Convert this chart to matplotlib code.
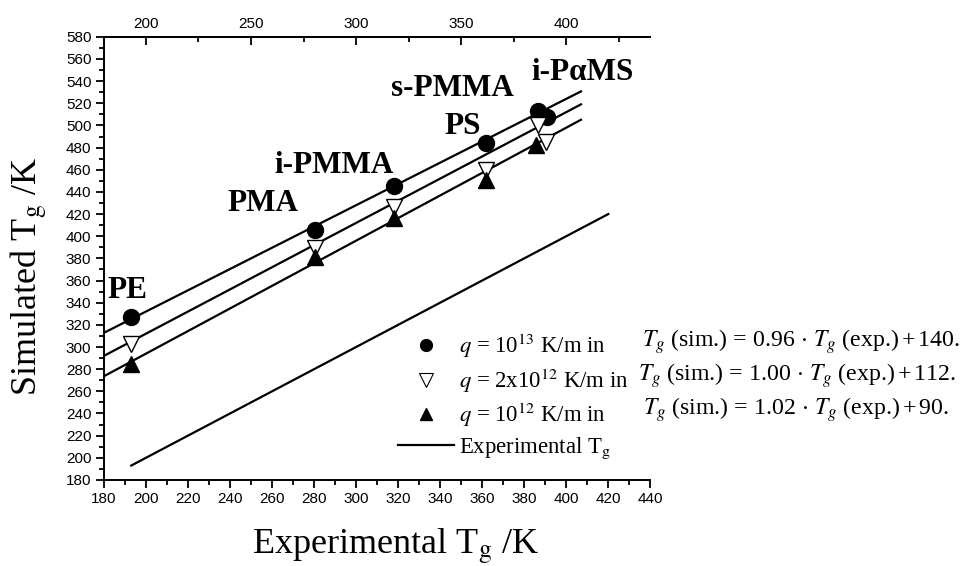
import matplotlib
matplotlib.use("Agg")
import matplotlib.pyplot as plt
from matplotlib.ticker import MultipleLocator
from matplotlib.lines import Line2D

plt.rcParams["mathtext.fontset"] = "stix"

# simulated Tg vs experimental Tg
circ_x = [193, 280.5, 318, 362, 386.7, 391]
circ_y = [327, 406, 445, 484, 513, 508]
dtri_x = [193, 280.5, 318, 362, 386.5, 390.5]
dtri_y = [303, 389, 426, 460, 500, 485]
utri_x = [193, 280.5, 318, 362, 385.7]
utri_y = [285, 381, 416, 450.6, 482]

# fitted lines (end points)
fit_x = [180, 407]
fit13_y = [312.8, 530.7]
fit2e12_y = [292, 519]
fit12_y = [273.6, 505.1]
exp_x = [193, 420]
exp_y = [193, 420]

polymers = ["PE", "PMA", "i-PMMA", "PS", "s-PMMA", "i-P\u03b1MS"]
label_x = [191.4, 255.7, 289.5, 350.5, 345.7, 407.6]
label_y = [351, 429.8, 464, 498.6, 533, 547.4]

legend_labels = [
    r"$q$ = 10$^{13}$ K/m in",
    r"$q$ = 2x10$^{12}$ K/m in",
    r"$q$ = 10$^{12}$ K/m in",
    r"Experimental T$_{\rm g}$",
]
equations = [
    r"$T_g\ $(sim.) = 0.96$\,\cdot\, T_g\ $(exp.)$\,$+$\,$140.",
    r"$T_g\ $(sim.) = 1.00$\,\cdot\, T_g\ $(exp.)$\,$+$\,$112.",
    r"$T_g\ $(sim.) = 1.02$\,\cdot\, T_g\ $(exp.)$\,$+$\,$90.",
]

fig = plt.figure(figsize=(9.62, 5.66), dpi=100)
ax = fig.add_axes([0.108, 0.152, 0.568, 0.783])

ax.plot(fit_x, fit13_y, color="k", lw=1.6)
ax.plot(fit_x, fit2e12_y, color="k", lw=1.6)
ax.plot(fit_x, fit12_y, color="k", lw=1.6)
ax.plot(exp_x, exp_y, color="k", lw=1.6)

ax.plot(circ_x, circ_y, "o", color="k", ms=11.5, zorder=3)
ax.plot(dtri_x, dtri_y, "v", mfc="white", mec="k", mew=1.0, ms=12, zorder=3)
ax.plot(utri_x, utri_y, "^", color="k", ms=11.5, zorder=4)

for name, lx, ly in zip(polymers, label_x, label_y):
    ax.text(lx, ly, name, ha="center", va="center", fontsize=22.5,
            fontweight="bold", family="Liberation Serif")

ax.set_xlim(180, 440)
ax.set_ylim(180, 580)
ax.xaxis.set_major_locator(MultipleLocator(20))
ax.xaxis.set_minor_locator(MultipleLocator(10))
ax.yaxis.set_major_locator(MultipleLocator(20))
ax.yaxis.set_minor_locator(MultipleLocator(10))
ax.tick_params(which="major", direction="out", length=6, width=1.3,
               labelsize=11, pad=3)
ax.tick_params(which="minor", direction="out", length=3.5, width=1.3)
ax.spines["right"].set_visible(False)
for s in ["left", "bottom", "top"]:
    ax.spines[s].set_linewidth(1.4)
for lab in ax.get_xticklabels() + ax.get_yticklabels():
    lab.set_family("Liberation Sans")

ax2 = ax.twiny()
ax2.set_xlim(ax.get_xlim())
ax2.xaxis.set_major_locator(MultipleLocator(50))
ax2.xaxis.set_minor_locator(MultipleLocator(25))
ax2.tick_params(which="major", direction="in", length=6, width=1.3,
                labelsize=11, pad=4)
ax2.tick_params(which="minor", direction="in", length=3.5, width=1.3)
for s in ["left", "right", "bottom"]:
    ax2.spines[s].set_visible(False)
ax2.spines["top"].set_linewidth(1.4)
for lab in ax2.get_xticklabels():
    lab.set_family("Liberation Sans")

ax.set_xlabel(r"Experimental T$_{\rm g}$ /K", fontsize=26,
              family="Liberation Serif")
ax.xaxis.set_label_coords(0.533, -0.105)
ax.set_ylabel(r"Simulated T$_{\rm g}$ /K", fontsize=26,
              family="Liberation Serif")
ax.yaxis.set_label_coords(-0.099, 0.46)

handles = [
    Line2D([], [], ls="none", marker="o", color="k", ms=8.5),
    Line2D([], [], ls="none", marker="v", mfc="white", mec="k", ms=10, mew=0.8),
    Line2D([], [], ls="none", marker="^", color="k", ms=9),
    Line2D([], [], color="k", lw=1.6),
]
ax.legend(handles, legend_labels, loc="upper left",
          bbox_to_anchor=(0.518, 0.36), frameon=False, borderpad=0,
          handlelength=2.45, handletextpad=0.22, labelspacing=0.28,
          prop={"family": "Liberation Serif", "size": 16.4})

eq_x = [642, 638, 643]
row_y = [342, 376, 410]
for eq, ex, ry in zip(equations, eq_x, row_y):
    fig.text(ex / 962, 1 - ry / 566, eq, ha="left", va="center",
             fontsize=17.2, family="Liberation Serif")

fig.savefig("out.png", dpi=100)
